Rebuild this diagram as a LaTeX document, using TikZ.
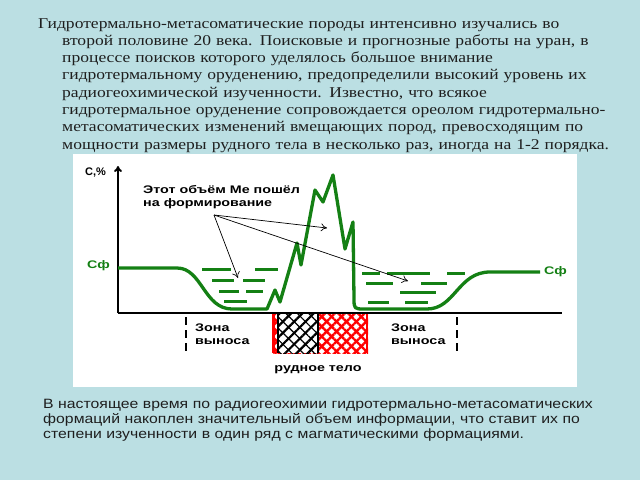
\documentclass[tikz,border=0pt]{standalone}
\usepackage{fontspec}
\setmainfont{Liberation Serif}
\setsansfont{Liberation Sans}
\newfontfamily\slideserif[FakeStretch = 1.17]{Liberation Serif}
\newfontfamily\slidesans[FakeStretch = 1.17]{Liberation Sans}
\newfontfamily\chartsans[FakeStretch = 1.3]{Liberation Sans}
\usetikzlibrary{arrows.meta,patterns.meta}
\definecolor{slidebg}{RGB}{187,223,227}
\definecolor{curvegreen}{RGB}{20,128,20}
\definecolor{textgray}{RGB}{30,30,30}
\newcommand{\hang}{\hspace*{24pt}}
\begin{document}
\begin{tikzpicture}[x = 1pt, y = -1pt, >= {To[length = 6pt, width = 8pt]}]
            \fill[slidebg] (0,0) rectangle (640,480);
            \useasboundingbox (0,0) rectangle (640,480);
            \fill[white] (73,154) rectangle (577,387);
            % texts of the slide
            \node[anchor = north west, inner sep = 0pt, text width = 600pt, align = left, text = textgray,
                font = \slideserif\fontsize{15}{17.3}\selectfont] (intro) at (38,18) {%
                Гидротермально-метасоматические породы интенсивно изучались во\\
                \hang второй половине 20 века. Поисковые и прогнозные работы на уран, в\\
                \hang процессе поисков которого уделялось большое внимание\\
                \hang гидротермальному оруденению, предопределили высокий уровень их\\
                \hang радиогеохимической изученности. Известно, что всякое\\
                \hang гидротермальное оруденение сопровождается ореолом гидротермально-\\
                \hang метасоматических изменений вмещающих пород, превосходящим по\\
                \hang мощности размеры рудного тела в несколько раз, иногда на 1-2 порядка.};
            \node[anchor = north west, inner sep = 0pt, text width = 590pt, align = left, text = textgray,
                font = \slidesans\fontsize{13.5}{15}\selectfont] (outro) at (43,399) {%
                В настоящее время по радиогеохимии гидротермально-метасоматических\\
                формаций накоплен значительный объем информации, что ставит их по\\
                степени изученности в один ряд с магматическими формациями.};
            % axes
            \draw[line width = 2pt, ->] (118,313) -- (118,166);
            \draw[line width = 2pt] (118,313) -- (562,313);
            % concentration curve
            \draw[curvegreen, line width = 3.3pt, line join = round] (118,268) -- (177,268)
                .. controls (202,268) and (204,309) .. (232,309) -- (267,309) -- (275,290) -- (280,302)
                -- (297,243) -- (301,265) -- (315,190) -- (323,202) -- (333,175) -- (345,249) -- (353,222)
                -- (354,298) .. controls (354,309) .. (365,309) -- (427,309)
                .. controls (455,309) and (458,272) .. (490,272) -- (540,272);
            \begin{scope}[curvegreen, line width = 3pt]
                \draw (202,269) -- (231,269);
                \draw (255,269) -- (278,269);
                \draw (212,280) -- (234,280);
                \draw (243,280) -- (265,280);
                \draw (219,291) -- (239,291);
                \draw (246,291) -- (263,291);
                \draw (224,301) -- (247,301);
                \draw (362,273) -- (380,273);
                \draw (387,273) -- (430,273);
                \draw (447,273) -- (465,273);
                \draw (366,283) -- (393,283);
                \draw (421,283) -- (447,283);
                \draw (400,292) -- (436,292);
                \draw (368,302) -- (389,302);
                \draw (405,302) -- (428,302);
            \end{scope}
            % ore body
            \fill[pattern = {Lines[angle = 45, distance = 7pt, line width = 2.4pt]}, pattern color = red] (272,314) rectangle (368,353);
            \fill[pattern = {Lines[angle = -45, distance = 7pt, line width = 2.4pt]}, pattern color = red] (272,314) rectangle (368,353);
            \fill[white] (278,314) rectangle (318,353);
            \fill[pattern = {Lines[angle = 45, distance = 8pt, line width = 2.2pt]}, pattern color = black] (278,314) rectangle (318,353);
            \fill[pattern = {Lines[angle = -45, distance = 8pt, line width = 1.2pt]}, pattern color = black] (278,314) rectangle (318,353);
            \draw[red, line width = 3pt] (273.5,314) -- (273.5,353);
            \draw[red, line width = 2pt] (367,314) -- (367,353);
            \draw[line width = 2.5pt] (278,314) -- (278,353);
            \draw[line width = 2.5pt] (318,314) -- (318,353);
            \begin{scope}[line width = 2pt, dash pattern = on 8pt off 5pt]
                \draw (186,317) -- (186,351);
                \draw (457,317) -- (457,351);
            \end{scope}
            % labels of the chart
            \begin{scope}[every node/.append style = {font = \chartsans\bfseries\fontsize{11}{13}\selectfont, inner sep = 0pt}]
                \node[anchor = west, font = \sffamily\bfseries\fontsize{11}{13}\selectfont] (caxis) at (85,173) {С,\%};
                \node[anchor = west, text = curvegreen] (cfleft) at (87,266) {Сф};
                \node[anchor = west, text = curvegreen] (cfright) at (544,272) {Сф};
                \node[anchor = north west, align = left] (note) at (143,185) {Этот объём Ме пошёл\\на формирование};
                \node[anchor = north west, align = left] (zoneleft) at (195,324) {Зона\\выноса};
                \node[anchor = north west, align = left] (zoneright) at (391,324) {Зона\\выноса};
                \node (orebody) at (318,370) {рудное тело};
            \end{scope}
            \coordinate (from) at (214,215);
            \coordinate (tipleft) at (238,278);
            \coordinate (tippeak) at (327,228);
            \coordinate (tipright) at (408,281);
            \draw[->, line width = 0.7pt] (from) -- (tipleft);
            \draw[->, line width = 0.7pt] (from) -- (tippeak);
            \draw[->, line width = 0.7pt] (from) -- (tipright);
        \end{tikzpicture}
\end{document}
